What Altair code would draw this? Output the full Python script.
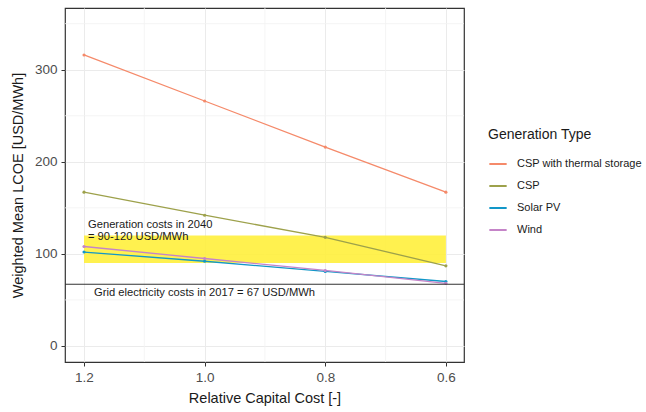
import altair as alt
import pandas as pd

x_vals = [1.2, 1.0, 0.8, 0.6]
csp_storage = [316, 266, 216, 167]
csp = [167, 142, 118, 87]
solar_pv = [102, 92, 81, 70]
wind = [108, 95, 82, 68]
series_names = ["CSP with thermal storage", "CSP", "Solar PV", "Wind"]
series_colors = ["#F58A6A", "#9DA14B", "#1297C8", "#C584C8"]

y_major = [0, 100, 200, 300]
y_minor = [50, 150, 250, 350]
x_major = [1.2, 1.0, 0.8, 0.6]
x_minor = [1.1, 0.9, 0.7]

band_x = [1.2, 0.6]
band_y = [90, 120]
grid_cost = 67

gen_text = ["Generation costs in 2040", "= 90-120 USD/MWh"]
gen_text_x = [1.1934, 1.1934]
gen_text_y = [131.5, 118.5]
grid_text = ["Grid electricity costs in 2017 = 67 USD/MWh"]
grid_text_x = [1.1834]
grid_text_y = [57.6]

rows = []
for name, vals in zip(series_names, [csp_storage, csp, solar_pv, wind]):
    for xv, yv in zip(x_vals, vals):
        rows.append({"x": xv, "y": yv, "type": name})
df = pd.DataFrame(rows)

xscale = alt.Scale(domain=[0.570, 1.2315], reverse=True, nice=False, zero=False)
yscale = alt.Scale(domain=[-17.4, 367], nice=False, zero=False)

xaxis = alt.Axis(values=x_major, format=".1f", title="Relative Capital Cost [-]",
                 grid=True, gridColor="#EBEBEB", domain=False, tickColor="#333333",
                 tickSize=4, labelColor="#4D4D4D", labelFontSize=13.5, titleFontSize=14.5,
                 titleColor="#1A1A1A", titleFontWeight="normal", labelPadding=4, titlePadding=8,
                 labelFont="Liberation Sans", titleFont="Liberation Sans")
yaxis = alt.Axis(values=y_major, title="Weighted Mean LCOE [USD/MWh]",
                 grid=True, gridColor="#EBEBEB", domain=False, tickColor="#333333",
                 tickSize=4, labelColor="#4D4D4D", labelFontSize=13.5, titleFontSize=14.5,
                 titleColor="#1A1A1A", titleFontWeight="normal", labelPadding=4, titlePadding=9,
                 labelFont="Liberation Sans", titleFont="Liberation Sans")

base_axes = alt.Chart(pd.DataFrame({"x": [x_vals[0]], "y": [y_major[0]]})).mark_point(opacity=0).encode(
    x=alt.X("x:Q", scale=xscale, axis=xaxis),
    y=alt.Y("y:Q", scale=yscale, axis=yaxis),
)

ygrid_minor = alt.Chart(pd.DataFrame({"y": y_minor})).mark_rule(color="#F2F2F2", strokeWidth=0.8).encode(
    y=alt.Y("y:Q", scale=yscale)
)
xgrid_minor = alt.Chart(pd.DataFrame({"x": x_minor})).mark_rule(color="#F2F2F2", strokeWidth=0.8).encode(
    x=alt.X("x:Q", scale=xscale)
)

band = alt.Chart(pd.DataFrame({"x": [band_x[0]], "x2": [band_x[1]], "y": [band_y[0]], "y2": [band_y[1]]})).mark_rect(
    color="#FFF03C", opacity=0.9
).encode(
    x=alt.X("x:Q", scale=xscale), x2="x2:Q",
    y=alt.Y("y:Q", scale=yscale), y2="y2:Q",
)

hline = alt.Chart(pd.DataFrame({"y": [grid_cost]})).mark_rule(color="#333333", strokeWidth=1.1).encode(
    y=alt.Y("y:Q", scale=yscale)
)

lines = alt.Chart(df).mark_line(strokeWidth=1.3, point=alt.OverlayMarkDef(size=10, filled=True)).encode(
    x=alt.X("x:Q", scale=xscale),
    y=alt.Y("y:Q", scale=yscale),
    color=alt.Color("type:N", sort=series_names,
                    scale=alt.Scale(domain=series_names, range=series_colors),
                    legend=alt.Legend(title="Generation Type", orient="none", legendX=423, legendY=120,
                                      titleFontSize=14, titleFontWeight="normal", titleColor="#1A1A1A",
                                      labelFontSize=11, labelColor="#1A1A1A", symbolType="stroke",
                                      symbolSize=300, symbolStrokeWidth=2, rowPadding=7,
                                      labelOffset=9, titlePadding=12, labelFont="Liberation Sans",
                                      titleFont="Liberation Sans")),
)

gen_df = pd.DataFrame({"x": gen_text_x, "y": gen_text_y, "t": gen_text})
gen_label = alt.Chart(gen_df).mark_text(align="left", baseline="middle", fontSize=11.2,
                                        color="#1A1A1A", font="Liberation Sans").encode(
    x=alt.X("x:Q", scale=xscale), y=alt.Y("y:Q", scale=yscale), text="t:N"
)
grid_df = pd.DataFrame({"x": grid_text_x, "y": grid_text_y, "t": grid_text})
grid_label = alt.Chart(grid_df).mark_text(align="left", baseline="middle", fontSize=11.2,
                                          color="#1A1A1A", font="Liberation Sans").encode(
    x=alt.X("x:Q", scale=xscale), y=alt.Y("y:Q", scale=yscale), text="t:N"
)

chart = alt.layer(base_axes, ygrid_minor, xgrid_minor, band, lines, hline, gen_label, grid_label).properties(
    width=399, height=354,
    autosize=alt.AutoSizeParams(type="none"),
    padding={"left": 65, "top": 8, "right": 182, "bottom": 50},
    background="white",
).configure_view(stroke="#333333", strokeWidth=1.2)

chart.save("out.html", embed_options={"renderer": "svg", "actions": False})
